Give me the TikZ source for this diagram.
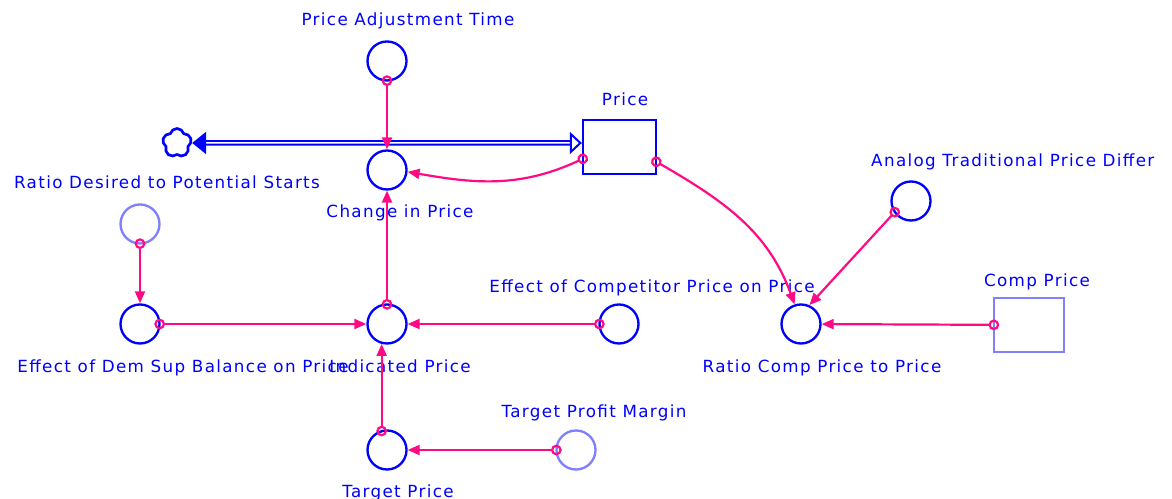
\documentclass[tikz,border=0pt]{standalone}
\usepackage{fontspec}
\setmainfont{DejaVu Sans}[LetterSpace=8]
\usepackage{xcolor}
\usepackage{tikz}
\usetikzlibrary{arrows.meta,shapes.symbols}
\definecolor{SDBlue}{HTML}{0000FF}
\definecolor{SDLight}{HTML}{8080FF}
\definecolor{SDPink}{HTML}{FF0A84}

\begin{document}
\begin{tikzpicture}[x=0.3mm,y=0.3mm,
  aux/.style={circle,draw=SDBlue,line width=0.7mm,minimum size=11.7mm,inner sep=0pt},
  lvl/.style={rectangle,draw=SDBlue,line width=0.7mm,minimum width=21.9mm,minimum height=16.2mm,inner sep=0pt},
  lab/.style={text=SDBlue,font=\fontsize{14.3}{17}\selectfont,anchor=base,inner sep=0pt},
  link/.style={draw=SDPink,line width=0.66mm,{Circle[open,length=3.2mm,width=3.2mm]}-{Triangle[length=3.6mm,width=3mm]},shorten <=-1.9mm},
  pipe/.style={draw=SDBlue,line width=0.6mm,double=white,double distance=0.45mm,{Triangle[length=4.2mm,width=6.6mm]}-{Triangle[open,length=3.6mm,width=6.6mm]}}]
\clip (0,0) rectangle (1172,499);

% auxiliaries
\foreach \n/\x/\y/\c in {pat/387/438/SDBlue,cip/387/329/SDBlue,rdps/140/275/SDLight,edsb/140/175/SDBlue,ip/387/175/SDBlue,ecp/619/175/SDBlue,tpm/576/49/SDLight,tp/387/49/SDBlue,atpd/911/298/SDBlue,rcp/801/175/SDBlue} {
  \node[aux,draw=\c] (\n) at (\x,\y) {};
}
% levels
\node[lvl] (price) at (619.5,352) {};
\node[lvl,draw=SDLight,minimum width=21mm] (cp) at (1029,174) {};
\node[cloud,cloud puffs=5,draw=SDBlue,line width=0.8mm,minimum width=8.7mm,minimum height=8.7mm,inner sep=0pt] (cloud) at (177,356) {};

% names
\foreach \n/\x/\y/\t in {pat/408/473/Price Adjustment Time,cip/400/281/Change in Price,price/625/393/Price,rdps/167/310/Ratio Desired to Potential Starts,edsb/183/126/Effect of Dem Sup Balance on Price,ip/400/126/Indicated Price,ecp/652/206/Effect of Competitor Price on Price,tpm/594/81/Target Profit Margin,tp/398/1/Target Price,cp/1037/212/Comp Price,rcp/822/126/Ratio Comp Price to Price} {
  \node[lab] (\n-lab) at (\x,\y) {\t};
}
\node[lab,anchor=base west] (atpd-lab) at (871,332) {Analog Traditional Price Differ};

% flow
\draw[pipe] (cloud) -- ([yshift=1.2mm]price.west);

% links
\draw[link] (pat) -- (cip);
\draw[link] (price.198) to[out=205,in=-10] (cip.-5);
\draw[link] (price.-22) to[out=-30,in=110] (rcp.108);
\draw[link] (atpd.215) -- (rcp.66);
\draw[link] (cp) -- (rcp);
\draw[link] (rdps) -- (edsb);
\draw[link] (edsb) -- (ip);
\draw[link] (ecp) -- (ip);
\draw[link] (tp.105) -- (ip.255);
\draw[link] (ip) -- (cip);
\draw[link] (tpm) -- (tp);
\end{tikzpicture}
\end{document}
